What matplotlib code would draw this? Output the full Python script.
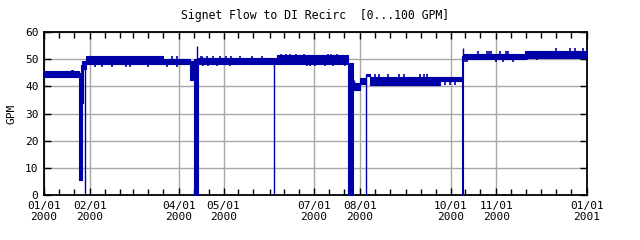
import matplotlib
matplotlib.use("Agg")
import matplotlib.pyplot as plt
import matplotlib.dates as mdates

# all times are days after 2000-01-01, flow in GPM
t0 = mdates.datestr2num("2000-01-01")

# steady running bands
band_start = [0, 25.6, 28.5, 80, 103.8, 157, 208.4, 213, 217, 219.7, 267, 282.6, 324]
band_end = [23.6, 28.5, 80, 98.4, 157, 205, 213, 217, 219.7, 267, 281.5, 324, 366]
band_low = [43.3, 46.5, 48.2, 48.2, 48.1, 48.3, 38.6, 40.7, 43.9, 40.5, 41.8, 49.9, 50.6]
band_high = [45.6, 49.5, 51.2, 50.0, 50.6, 51.7, 41.1, 43.2, 44.4, 43.5, 43.5, 52.0, 53.1]

# outages / upsets
drop_start = [23.6, 25.0, 98.4, 100.8, 205, 281.5]
drop_end = [25.4, 26.5, 100.8, 103.8, 208.4, 282.6]
drop_low = [5.5, 33.7, 42.3, 0, 0, 0]
drop_high = [45.0, 48.0, 49.5, 50.0, 48.5, 51.0]

# single samples (thin)
spike_day = [27.8, 103.1, 106.3, 155, 209, 217, 282.2]
spike_low = [0, 48, 49, 0, 40, 0, 50]
spike_high = [48.5, 54.8, 51.2, 50.2, 42.3, 44.2, 54.0]

# noise ticks off the bands
tick_day = [1.3, 4, 6.3, 10.8, 15.3, 18.6, 18.6, 19.8,
            34.4, 38.9, 45.6, 55.3, 57.9, 70.3, 82.6, 89.4, 86, 89.4,
            106, 109.6, 114, 118.6, 123, 126, 132, 140, 147, 107, 110.7, 116.3, 125.3,
            160, 163, 166, 170, 175, 191.6, 193.2, 197.2,
            177, 179, 182.6, 189.4, 195, 203,
            223, 226, 231.6, 239, 242.4, 253.6, 256.3, 258, 270.2, 273.6, 277,
            283.7, 285.3, 305, 309.5, 316.3, 292.7, 298.3, 300, 301.6, 307.3, 311.3, 312.9,
            325.7, 332.6, 345, 354.4, 357.8, 363]
tick_low = [42.9, 42.9, 42.9, 42.9, 42.9, 42.9, 45, 45,
            47.3, 47.3, 47.3, 47.3, 47.3, 47.3, 47.3, 47.3, 49, 49,
            50, 50, 50, 50, 50, 50, 50, 50, 50, 47.5, 47.5, 47.5, 47.5,
            51, 51, 51, 51, 51, 51, 51, 51,
            47.6, 47.6, 47.6, 47.6, 47.6, 47.6,
            43, 43, 43, 43, 43, 43, 43, 43, 40.5, 40.5, 40.5,
            48.8, 48.8, 49, 49, 49, 51.5, 51.5, 51.5, 51.5, 51.5, 51.5, 51.5,
            49.7, 49.7, 52.5, 52.5, 52.5, 52.5]
tick_high = [44, 44, 44, 44, 44, 44, 46, 46,
             49, 49, 49, 49, 49, 49, 49, 49, 51.2, 51.2,
             51.2, 51.2, 51.2, 51.2, 51.2, 51.2, 51.2, 51.2, 51.2, 49, 49, 49, 49,
             52, 52, 52, 52, 52, 52, 52, 52,
             49, 49, 49, 49, 49, 49,
             44.4, 44.4, 44.4, 44.4, 44.4, 44.4, 44.4, 44.4, 42, 42, 42,
             50.5, 50.5, 50.5, 50.5, 50.5, 53.1, 53.1, 53.1, 53.1, 53.1, 53.1, 53.1,
             51, 51, 54, 54, 54, 54]

major_dates = ["2000-01-01", "2000-02-01", "2000-04-01", "2000-05-01", "2000-07-01",
               "2000-08-01", "2000-10-01", "2000-11-01", "2001-01-01"]

blue = "#0000a8"
font = "DejaVu Sans Mono"

fig = plt.figure(figsize=(6.4, 2.4), dpi=100)
ax = fig.add_axes([44 / 640, 45 / 240, 543 / 640, 163 / 240])

for s, e, lo, hi in zip(band_start, band_end, band_low, band_high):
    ax.fill_between([t0 + s, t0 + e], [lo, lo], [hi, hi], color=blue, lw=0.8, zorder=3)
for s, e, lo, hi in zip(drop_start, drop_end, drop_low, drop_high):
    ax.fill_between([t0 + s, t0 + e], [lo, lo], [hi, hi], color=blue, lw=0.8, zorder=3)
ax.vlines([t0 + d for d in spike_day], spike_low, spike_high, color=blue, lw=1.0, zorder=3)
ax.vlines([t0 + d for d in tick_day], tick_low, tick_high, color=blue, lw=1.2, zorder=3)

ax.set_xlim(t0, mdates.datestr2num("2001-01-01"))
ax.set_ylim(0, 60)
ax.set_yticks(range(0, 61, 10))
ax.set_xticks([mdates.datestr2num(d) for d in major_dates])
ax.xaxis.set_major_formatter(mdates.DateFormatter("%m/%d\n%Y"))
ax.xaxis.set_minor_locator(mdates.DayLocator(bymonthday=[1, 11, 21]))

ax.grid(True, which="major", color="#a8a8a8", lw=1.0, zorder=1)
ax.tick_params(which="both", direction="in", top=True, right=True, color="black")
ax.tick_params(which="major", length=5, width=1.0, labelsize=8, pad=4)
ax.tick_params(which="minor", length=4, width=1.0)
for lab in ax.get_xticklabels() + ax.get_yticklabels():
    lab.set_family(font)
    lab.set_linespacing(1.2)
for sp in ax.spines.values():
    sp.set_linewidth(1.3)

ax.set_ylabel("GPM", family=font, fontsize=8, labelpad=6)
ax.set_title("Signet Flow to DI Recirc  [0...100 GPM]", family=font, fontsize=8.3, pad=9)

fig.savefig("out.png", dpi=100)
